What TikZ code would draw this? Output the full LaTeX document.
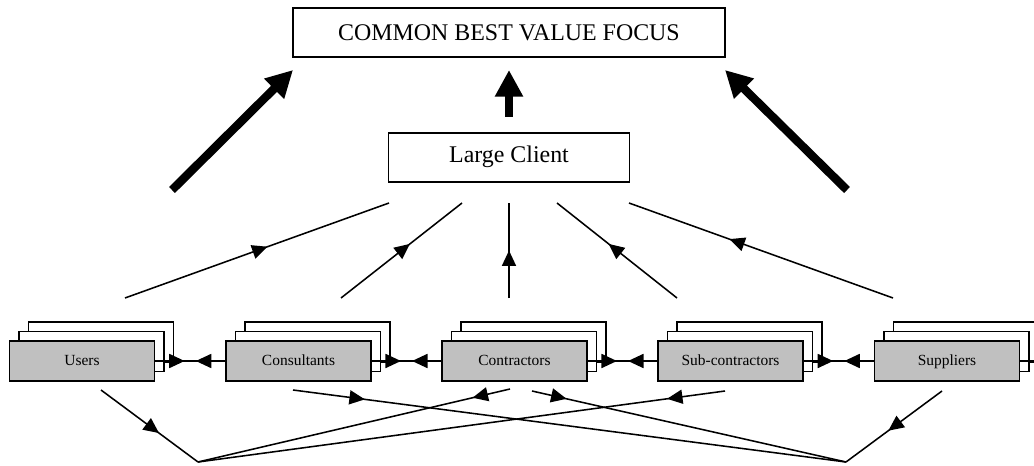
\documentclass[tikz,border=0pt]{standalone}
\usepackage{fontspec}
\setmainfont{Liberation Serif}
\usepackage{xcolor}
\usetikzlibrary{arrows.meta,positioning,decorations.markings}
\definecolor{partygray}{RGB}{192,192,192}

\begin{document}
\begin{tikzpicture}[x=0.025cm, y=-0.025cm,
    >={Triangle[length=11pt,width=10pt]},
    bigbox/.style={rectangle, draw, line width=1.2pt, minimum width=10.8cm, minimum height=1.225cm, font=\fontsize{17}{20}\selectfont},
    clientbox/.style={bigbox, minimum width=6.025cm},
    sheet/.style={rectangle, draw, fill=white, line width=1.2pt, minimum width=3.625cm, minimum height=1cm},
    party/.style={sheet, fill=partygray, text height=1.6ex, text depth=0.3ex, font=\fontsize{11}{13}\selectfont},
    flow/.style={line width=1.1pt},
    midarrow/.style={flow, decoration={markings, mark=at position #1 with {\arrow{>}}}, postaction={decorate}},
    meet/.style={flow, decoration={markings, mark=at position 0.42 with {\arrow{>}}, mark=at position 0.58 with {\arrowreversed{>}}}, postaction={decorate}},
    bigarrow/.style={line width=6pt, -{Triangle[length=19pt,width=19pt]}}]
    \useasboundingbox (0,0) rectangle (1034,466);

    \node[bigbox] (focus) at (509,32.5) {COMMON BEST VALUE FOCUS};
    \node[clientbox, below=1.85cm of focus] (client) {Large Client};

    % stacked boxes
    \foreach \name/\txt/\x in {users/Users/82, consultants/Consultants/298.5, contractors/Contractors/514.5, subs/Sub-contractors/730.5, suppliers/Suppliers/947} {
        \node[sheet] (\name-back) at (\x+19,342) {};
        \node[sheet] (\name-mid) at (\x+9.5,351.5) {};
        \node[party] (\name) at (\x,361) {\txt};
    }

    % free ends
    \coordinate (left-tail) at (172,190);
    \coordinate (left-tip) at (293,70);
    \coordinate (right-tail) at (847,190);
    \coordinate (right-tip) at (725,70);
    \coordinate (client-top) at (509,117);
    \coordinate (focus-bottom) at (509,70);

    \coordinate (users-up) at (125,298);
    \coordinate (consultants-up) at (341,298);
    \coordinate (contractors-up) at (509,298);
    \coordinate (subs-up) at (677,298);
    \coordinate (suppliers-up) at (893,298);
    \coordinate (client-1) at (389,203);
    \coordinate (client-2) at (462,203);
    \coordinate (client-3) at (509,203);
    \coordinate (client-4) at (557,203);
    \coordinate (client-5) at (629,203);

    \coordinate (users-down) at (101,390);
    \coordinate (consultants-down) at (293,390);
    \coordinate (contractors-downl) at (510,389);
    \coordinate (contractors-downr) at (532,391);
    \coordinate (subs-down) at (725,391);
    \coordinate (suppliers-down) at (942,391);
    \coordinate (joinL) at (198,462);
    \coordinate (joinR) at (846,462);
    \coordinate (edge) at (1034,361);

    \draw[bigarrow] (left-tail) -- (left-tip);
    \draw[bigarrow] (right-tail) -- (right-tip);
    \draw[bigarrow] (client-top) -- (focus-bottom);

    \draw[midarrow=0.54] (users-up) -- (client-1);
    \draw[midarrow=0.57] (consultants-up) -- (client-2);
    \draw[midarrow=0.5] (contractors-up) -- (client-3);
    \draw[midarrow=0.57] (subs-up) -- (client-4);
    \draw[midarrow=0.62] (suppliers-up) -- (client-5);

    \draw[meet] (users.east) -- (consultants.west);
    \draw[meet] (consultants.east) -- (contractors.west);
    \draw[meet] (contractors.east) -- (subs.west);
    \draw[meet] (subs.east) -- (suppliers.west);
    \draw[flow] (suppliers.east) -- (edge);

    \draw[midarrow=0.6] (users-down) -- (joinL);
    \draw[midarrow=0.13] (consultants-down) -- (joinR);
    \draw[midarrow=0.12] (contractors-downl) -- (joinL);
    \draw[midarrow=0.11] (contractors-downr) -- (joinR);
    \draw[midarrow=0.11] (subs-down) -- (joinL);
    \draw[midarrow=0.56] (suppliers-down) -- (joinR);
\end{tikzpicture}
\end{document}
